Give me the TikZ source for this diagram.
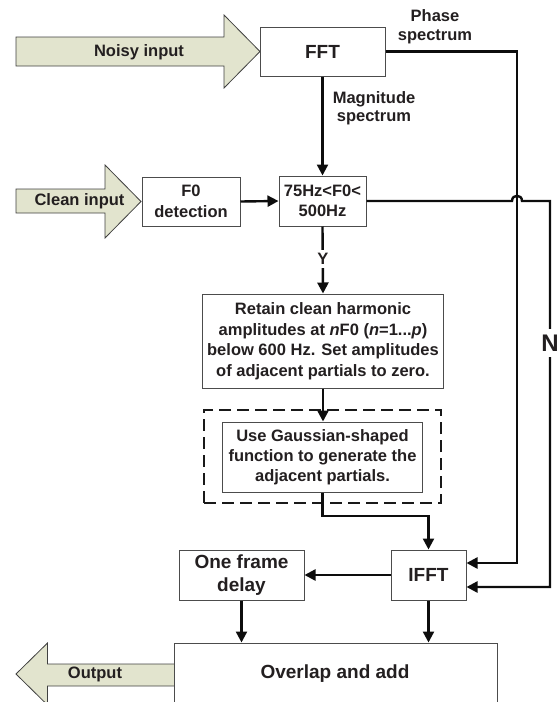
\documentclass[tikz,border=0pt]{standalone}
\usepackage{fontspec}
\setmainfont{Liberation Sans}
\usetikzlibrary{arrows.meta}
\definecolor{arrowfill}{RGB}{226,228,206}
\definecolor{txt}{RGB}{35,31,32}
\begin{document}
\begin{tikzpicture}[x=1pt,y=-1pt,
  box/.style={draw=black!70, line width=1pt, fill=white, align=center, inner sep=0pt, text=txt,
    font=\fontsize{16.5}{20.5}\selectfont\bfseries},
  bigtxt/.style={font=\fontsize{19}{23}\selectfont\bfseries},
  conn/.style={line width=2.4pt, draw=black!95},
  arr/.style={conn, -{Triangle[length=11pt,width=11pt]}},
  lbl/.style={text=txt, font=\fontsize{16.5}{19}\selectfont\bfseries, align=center, inner sep=0pt},
  bigarrow/.style={draw=black!75, line width=0.8pt, fill=arrowfill},
  dashbox/.style={draw=black!90, line width=1.6pt, dash pattern=on 12pt off 6pt}]
\useasboundingbox (0,0) rectangle (559,702);
\clip (0,0) rectangle (559,702);

% big input/output arrows
\draw[bigarrow] (16,37) -- (224,37) -- (224,15) -- (260,51.5) -- (224,88) -- (224,66) -- (16,66) -- cycle;
\node[lbl] (noisy) at (139,52) {Noisy input};
\draw[bigarrow] (16,189) -- (105,189) -- (105,165) -- (141,201.5) -- (105,238) -- (105,213) -- (16,213) -- cycle;
\node[lbl] (clean) at (79.5,201) {Clean input};
\draw[bigarrow] (174,664) -- (47.5,664) -- (47.5,643) -- (16,674) -- (47.5,705) -- (47.5,686) -- (174,686);
\node[lbl] (output) at (95,674) {Output};

% dashed group box
\node[dashbox, minimum width=237pt, minimum height=93pt, inner sep=0pt] (group) at (322.5,456.5) {};

% boxes
\node[box, bigtxt, minimum width=125pt, minimum height=49pt] (fft) at (322.5,51.5) {FFT};
\node[box, minimum width=98pt, minimum height=49pt] (f0) at (191,201.5) {F0\\detection};
\node[box, minimum width=87pt, minimum height=50pt] (rng) at (322.5,201) {75Hz<F0<\\500Hz};
\node[box, minimum width=240.5pt, minimum height=94pt] (retain) at (323,341)
  {Retain clean harmonic\\amplitudes at \textit{n}F0 (\textit{n}=1...\textit{p})\\below 600 Hz. Set amplitudes\\of adjacent partials to zero.};
\node[box, font=\fontsize{16.5}{20}\selectfont\bfseries, minimum width=200.5pt, minimum height=70pt] (gauss) at (322.5,457)
  {Use Gaussian-shaped\\function to generate the\\adjacent partials.};
\node[box, bigtxt, minimum width=75pt, minimum height=50pt] (ifft) at (428.5,575) {IFFT};
\node[box, bigtxt, minimum width=125pt, minimum height=50pt] (delay) at (241.5,575) {One frame\\delay};
\node[box, minimum width=323pt, minimum height=80pt] (overlap) at (335.5,683) {};
\node[lbl, bigtxt] (overlaptxt) at (335,674) {Overlap and add};

% labels
\node[lbl] (phase) at (435,27) {Phase\\spectrum};
\node[lbl, font=\fontsize{16.5}{18}\selectfont\bfseries] (mag) at (374,108) {Magnitude\\spectrum};

% connectors
\draw[arr] (fft.south) -- (rng.north);
\draw[arr] (f0.east) -- (rng.west);
\coordinate (ph1) at (517,51.5);
\coordinate (ph2) at (517,563);
\draw[arr] (fft.east |- ph1) -- (ph1) -- (ph2) -- (ifft.east |- ph2);
\coordinate (n0) at (512,201);
\coordinate (n1) at (522,201);
\coordinate (n2) at (550,201);
\coordinate (n3) at (550,587);
\draw[arr] (rng.east) -- (n0) .. controls (512,194) and (522,194) .. (n1) -- (n2) -- (n3) -- (ifft.east |- n3);
\node[lbl, fill=white, inner sep=6pt, font=\fontsize{24}{26}\selectfont\bfseries] (nlab) at (550,343) {N};
\draw[arr] (rng.south) -- (retain.north);
\node[lbl, fill=white, inner sep=3pt] (ylab) at (323,259) {Y};
\draw[arr] (retain.south) -- (gauss.north -| retain.south);
\coordinate (g1) at (322.5,516);
\coordinate (g2) at (428.5,516);
\draw[arr] (gauss.south) -- (g1) -- (g2) -- (ifft.north);
\draw[arr] (ifft.west) -- (delay.east);
\draw[arr] (delay.south) -- (delay.south |- overlap.north);
\draw[arr] (ifft.south) -- (ifft.south |- overlap.north);
\end{tikzpicture}
\end{document}
